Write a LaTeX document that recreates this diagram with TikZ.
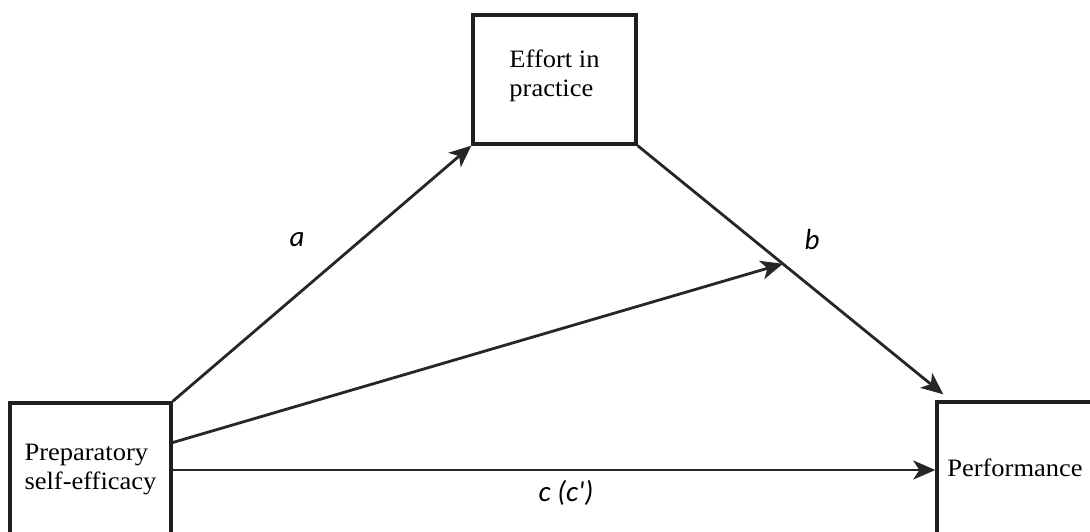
\documentclass[tikz,border=0pt]{standalone}
\usepackage{fontspec}
\setmainfont{Liberation Serif}[FakeStretch=1.06]
\newfontfamily\labfont{Carlito}
\usetikzlibrary{arrows.meta,calc}
\tikzset{
  box/.style={draw=black!88, line width=3.4pt, fill=white, inner sep=0pt, align=left,
    font=\fontsize{25}{29}\selectfont},
  conn/.style={draw=black!85, line width=2.8pt, -{Stealth[length=22pt,width=19pt,inset=6pt]}},
  lab/.style={font=\labfont\itshape\fontsize{29}{32}\selectfont, inner sep=0pt}
}
\begin{document}
\begin{tikzpicture}[x=1pt,y=-1pt]
\useasboundingbox[fill=white] (0,0) rectangle (1090,531);
\node[box, minimum width=161pt, minimum height=134pt] (L) at (90.5,470) {Preparatory\\self-efficacy};
\node[box, minimum width=163pt, minimum height=129pt, text depth=12pt] (E) at (554.5,79.5) {Effort in\\practice};
\node[box, minimum width=156pt, minimum height=132pt] (P) at (1015,468) {Performance};
\coordinate (Ptip) at ($(P.north west)+(8,-6)$);
\coordinate (Ls) at ($(L.north east)!0.3!(L.south east)$);
\coordinate (Mtip) at ($(E.south east)!0.475!(Ptip)$);
\draw[conn] (L.north east) -- (E.south west);
\draw[conn] (E.south east) -- (Ptip);
\draw[conn] (Ls) -- (Mtip);
\draw[conn] (L.east) -- (L.east -| P.west);
\node[lab] (la) at (297,240) {a};
\node[lab] (lb) at (812,240) {b};
\node[lab] (lc) at (566,493) {c (c\textquotesingle)};
\end{tikzpicture}
\end{document}
